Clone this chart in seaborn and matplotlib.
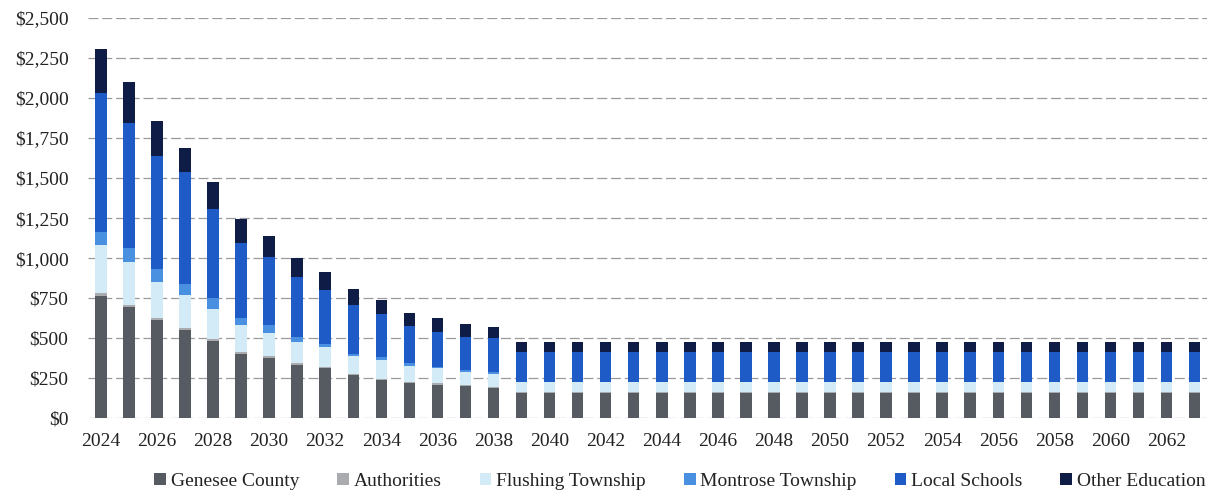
import matplotlib
matplotlib.use("Agg")
import matplotlib.pyplot as plt
import seaborn as sns
import pandas as pd
import numpy as np
from matplotlib.patches import Patch
from matplotlib.ticker import FuncFormatter

years = list(range(2024, 2064))
n_flat = 2063 - 2039 + 1

genesee_county = [766, 692, 612, 550, 483, 404, 377, 333, 311, 271, 240, 220, 210, 199, 190] + [160] * n_flat
authorities = [15, 14, 13, 12, 11, 10, 10, 9, 9, 8, 8, 7, 7, 7, 6] + [5] * n_flat
flushing_township = [300, 271, 225, 205, 190, 167, 146, 135, 125, 108, 115, 100, 94, 83, 83] + [60] * n_flat
montrose_township = [81, 84, 80, 70, 70, 42, 48, 31, 21, 17, 17, 15, 10, 15, 10] + [4] * n_flat
local_schools = [869, 781, 705, 704, 552, 469, 423, 371, 333, 302, 269, 233, 219, 204, 209] + [186] * n_flat
other_education = [275, 256, 223, 146, 167, 150, 135, 123, 115, 98, 90, 85, 83, 79, 69] + [63] * n_flat

series_names = ["Genesee County", "Authorities", "Flushing Township",
                "Montrose Township", "Local Schools", "Other Education"]
series_values = [genesee_county, authorities, flushing_township,
                 montrose_township, local_schools, other_education]
colors = ["#565a61", "#a9abae", "#d3eaf7", "#4a90e0", "#1f5bc6", "#0e1c46"]

y_ticks = list(range(0, 2501, 250))

df = pd.DataFrame({"year": [str(y) for y in years]})
cum = np.zeros(len(years))
for name, vals in zip(series_names, series_values):
    cum = cum + np.array(vals, dtype=float)
    df[name] = cum.copy()

plt.rcParams["font.family"] = ["Liberation Serif", "DejaVu Serif"]
fig = plt.figure(figsize=(12.10, 4.92), dpi=100)
ax = fig.add_axes([0.0727, 0.150, 0.925, 0.8134])

order = [str(y) for y in years]
for name, col in reversed(list(zip(series_names, colors))):
    sns.barplot(data=df, x="year", y=name, order=order, color=col,
                width=0.41, ax=ax, saturation=1, zorder=3)

ax.set_ylim(0, 2500)
ax.set_xlim(-0.46, 39.45)
ax.set_yticks(y_ticks)
ax.yaxis.set_major_formatter(FuncFormatter(lambda v, p: "${:,.0f}".format(v)))
ax.set_xticks(range(0, len(years), 2))
ax.set_xticklabels([str(y) for y in years[::2]])
ax.set_xlabel("")
ax.set_ylabel("")
for s in ax.spines.values():
    s.set_visible(False)
ax.tick_params(axis="both", length=0, labelsize=14, colors="#222222")
ax.tick_params(axis="y", pad=14)
ax.tick_params(axis="x", pad=11)
ax.yaxis.grid(True, color="#9a9a9a", linewidth=0.9, linestyle=(0, (8, 3)), zorder=0)
ax.set_axisbelow(True)

handles = [Patch(facecolor=c, edgecolor="none", label=n) for n, c in zip(series_names, colors)]
fig.legend(handles=handles, loc="center", bbox_to_anchor=(0.562, 0.022), ncol=6,
           frameon=False, fontsize=14, handlelength=0.6, handleheight=0.6,
           handletextpad=0.25, columnspacing=1.95, labelcolor="#222222")

fig.savefig("out.png", dpi=100)
